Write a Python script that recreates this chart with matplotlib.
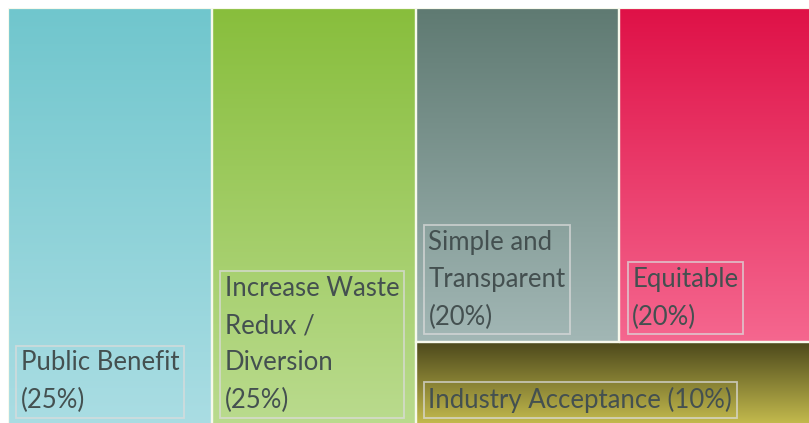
import numpy as np
import matplotlib
matplotlib.use("Agg")
import matplotlib.pyplot as plt
from matplotlib.colors import to_rgb
from matplotlib.patches import Rectangle

# treemap data
names = ["Public Benefit", "Increase Waste\nRedux /\nDiversion", "Simple and\nTransparent",
         "Equitable", "Industry Acceptance"]
shares = [25, 25, 20, 20, 10]
top_colors = ["#70C6CD", "#88BE3C", "#5F7A72", "#DF1147", "#4B471B"]
bottom_colors = ["#AADDE3", "#BADB8E", "#A2B7B5", "#F5678F", "#C5BC4E"]
label_sep = ["\n", "\n", "\n", "\n", " "]


def layout(values):
    # first two take full-height columns, remaining block: two columns on top, one strip at bottom
    total = float(sum(values))
    rects = []
    x = 0.0
    for v in values[:2]:
        w = 100 * v / total
        rects.append((x, 0, w, 100))
        x += w
    rest = values[2:]
    rest_w = 100 - x
    rest_total = sum(rest)
    strip_h = 100 * rest[2] / rest_total
    top_total = rest[0] + rest[1]
    xx = x
    for v in rest[:2]:
        w = rest_w * v / top_total
        rects.append((xx, strip_h, w, 100 - strip_h))
        xx += w
    rects.append((x, 0, rest_w, strip_h))
    return rects


fig = plt.figure(figsize=(8.09, 4.23), dpi=100)
ax = fig.add_axes([8 / 809, -2 / 423, 815 / 809, 417 / 423])
ax.set_xlim(0, 100)
ax.set_ylim(0, 100)
ax.axis("off")

rects = layout(shares)
for (x0, y0, w, h), c1, c2, name, pct, sep in zip(rects, top_colors, bottom_colors, names, shares, label_sep):
    t = np.linspace(0, 1, 256)[:, None]
    grad = (1 - t) * np.array(to_rgb(c1)) + t * np.array(to_rgb(c2))
    grad = grad[:, None, :]
    ax.imshow(grad, extent=(x0, x0 + w, y0, y0 + h), aspect="auto", origin="upper",
              interpolation="bilinear", zorder=1)
    ax.add_patch(Rectangle((x0, y0), w, h, fill=False, edgecolor="#F7F9EC", lw=1.6, zorder=2))
    ax.annotate(f"{name}{sep}({pct}%)", xy=(x0, y0), xytext=(13, 12), textcoords="offset pixels",
                ha="left", va="bottom", fontsize=18.5, family="Lato",
                color="#445050", linespacing=1.62, zorder=3,
                bbox=dict(boxstyle="square,pad=0.18", facecolor="none",
                          edgecolor=(0.86, 0.86, 0.86, 0.75), lw=1.3))

fig.savefig("out.png", dpi=100, facecolor="white")
